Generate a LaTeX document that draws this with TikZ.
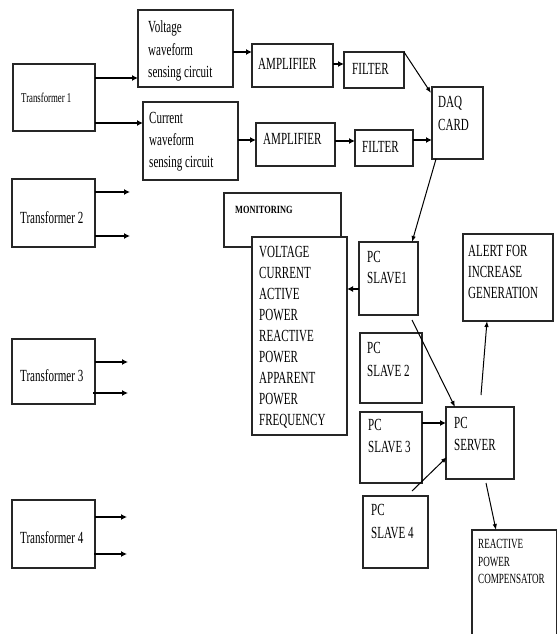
\documentclass[tikz,border=0pt]{standalone}
\usepackage{fontspec}
\setmainfont[FakeStretch=0.65]{Liberation Serif}
\newfontfamily\monfont[FakeStretch=0.76]{Liberation Serif}
\usetikzlibrary{arrows.meta,calc}
\tikzset{
  box/.style={draw=black!85, line width=1.1pt, inner sep=0pt, outer sep=0pt, anchor=north west, fill=white},
  txt/.style={anchor=north west, inner sep=0pt, align=left, font=\fontsize{17}{21}\selectfont},
  thick arrow/.style={line width=2pt, -{Latex[length=6pt,width=6pt]}},
  thin arrow/.style={line width=1pt, -{Latex[length=6pt,width=4.5pt]}},
}
\begin{document}
\begin{tikzpicture}[x=1pt,y=-1pt]
\clip (0,0) rectangle (558,634);
\fill[white] (0,0) rectangle (558,634);
% boxes
\node[box, minimum width=82, minimum height=67] (T1) at (13,64) {};
\node[box, minimum width=83, minimum height=68] (T2) at (12,179) {};
\node[box, minimum width=83, minimum height=65] (T3) at (12,339) {};
\node[box, minimum width=83, minimum height=68] (T4) at (12,500) {};
\node[box, minimum width=95, minimum height=77] (V) at (138,10) {};
\node[box, minimum width=95, minimum height=78] (C) at (143,102) {};
\node[box, minimum width=81, minimum height=43] (A1) at (252,44) {};
\node[box, minimum width=79, minimum height=43] (A2) at (256,123) {};
\node[box, minimum width=60, minimum height=36] (F1) at (344,52) {};
\node[box, minimum width=58, minimum height=36] (F2) at (355,130) {};
\node[box, minimum width=51, minimum height=72] (DAQ) at (432,87) {};
\node[box, minimum width=117, minimum height=54] (MON) at (224,193) {};
\node[box, minimum width=95, minimum height=198] (LIST) at (252,237) {};
\node[box, minimum width=59, minimum height=73] (S1) at (359,242) {};
\node[box, minimum width=62, minimum height=70] (S2) at (360,333) {};
\node[box, minimum width=62, minimum height=71] (S3) at (360,412) {};
\node[box, minimum width=65, minimum height=72] (S4) at (363,496) {};
\node[box, minimum width=68, minimum height=72] (SV) at (446,407) {};
\node[box, minimum width=90, minimum height=87] (AL) at (463,234) {};
\node[box, minimum width=84.5, minimum height=130] (RPC) at (472,530) {};
% texts
\node[txt, font=\fontsize{13.5}{16}\selectfont] (T1t) at (21,93) {Transformer 1};
\node[txt] (T2t) at (20,211) {Transformer 2};
\node[txt] (T3t) at (20,369) {Transformer 3};
\node[txt] (T4t) at (20,531) {Transformer 4};
\node[txt, font=\fontsize{17}{22.5}\selectfont] (Vt) at (148,21) {Voltage\\waveform\\sensing circuit};
\node[txt, font=\fontsize{17}{22}\selectfont] (Ct) at (149,112) {Current\\waveform\\sensing circuit};
\node[txt] (A1t) at (258,58) {AMPLIFIER};
\node[txt] (A2t) at (263,133) {AMPLIFIER};
\node[txt] (F1t) at (352,63) {FILTER};
\node[txt] (F2t) at (362,141) {FILTER};
\node[txt, font=\fontsize{17}{23}\selectfont] (DAQt) at (438,96) {DAQ\\CARD};
\node[txt, font=\monfont\fontsize{11}{13}\selectfont\bfseries] (MONt) at (235,206) {MONITORING};
\node[txt] (LISTt) at (259,246) {VOLTAGE\\CURRENT\\ACTIVE\\POWER\\REACTIVE\\POWER\\APPARENT\\POWER\\FREQUENCY};
\node[txt] (S1t) at (367,251) {PC\\SLAVE1};
\node[txt, font=\fontsize{17}{23}\selectfont] (S2t) at (367,342) {PC\\SLAVE 2};
\node[txt, font=\fontsize{17}{22}\selectfont] (S3t) at (368,419) {PC\\SLAVE 3};
\node[txt, font=\fontsize{17}{22}\selectfont] (SVt) at (454,417) {PC\\SERVER};
\node[txt, font=\fontsize{17}{23}\selectfont] (S4t) at (371,504) {PC\\SLAVE 4};
\node[txt] (ALt) at (468,245) {ALERT FOR\\INCREASE\\GENERATION};
\node[txt, font=\fontsize{14}{17.5}\selectfont] (RPCt) at (478,539.5) {REACTIVE\\POWER\\COMPENSATOR};
% free arrow ends
\coordinate (e21) at (130,192);
\coordinate (e22) at (130,236);
\coordinate (e31) at (128,362);
\coordinate (e32) at (128,393);
\coordinate (e41) at (127,517);
\coordinate (e42) at (127,554);
% connectors
\draw[thick arrow] ($(T1.north east)+(0,14)$) -- ($(V.north west)+(0,68)$);
\draw[thick arrow] ($(T1.north east)+(0,59)$) -- ($(C.north west)+(0,21)$);
\draw[thick arrow] ($(V.north east)+(0,42)$) -- ($(A1.north west)+(0,8)$);
\draw[thick arrow] ($(A1.north east)+(0,20)$) -- ($(F1.north west)+(0,12)$);
\draw[thick arrow] ($(C.north east)+(0,38)$) -- ($(A2.north west)+(0,17)$);
\draw[thick arrow] ($(A2.north east)+(0,18)$) -- ($(F2.north west)+(0,11)$);
\draw[thick arrow] ($(F2.north east)+(0,10)$) -- ($(DAQ.north west)+(0,53)$);
\draw[thin arrow] (F1.north east) -- ($(DAQ.north west)+(-1,6)$);
\draw[thin arrow] ($(DAQ.south west)+(4,0)$) -- ($(S1.north east)+(-6,0)$);
\draw[thick arrow] ($(S1.north west)+(0,47)$) -- ($(LIST.north east)+(0,52)$);
\draw[thin arrow] ($(S1.south east)+(-6,5)$) -- ($(SV.north west)+(9,0)$);
\draw[thick arrow] ($(S3.north east)+(0,11)$) -- ($(SV.north west)+(0,16)$);
\draw[thin arrow] ($(S4.north west)+(49,-5)$) -- ($(SV.north west)+(1,50)$);
\draw[thin arrow] ($(SV.north west)+(35,-12)$) -- ($(AL.south west)+(24,0)$);
\draw[thin arrow] ($(SV.south west)+(40,4)$) -- ($(RPC.north west)+(24,0)$);
\draw[thick arrow] ($(T2.north east)+(0,13)$) -- (e21);
\draw[thick arrow] ($(T2.north east)+(0,57)$) -- (e22);
\draw[thick arrow] ($(T3.north east)+(0,23)$) -- (e31);
\draw[thick arrow] ($(T3.north east)+(-2,54)$) -- (e32);
\draw[thick arrow] ($(T4.north east)+(0,17)$) -- (e41);
\draw[thick arrow] ($(T4.north east)+(-1,54)$) -- (e42);
\end{tikzpicture}
\end{document}
